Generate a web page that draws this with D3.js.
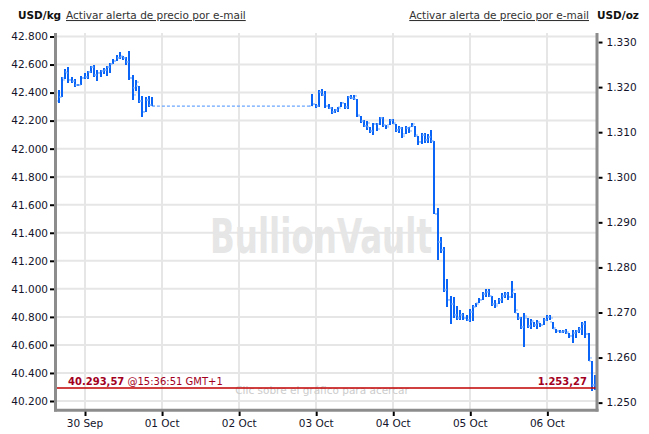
<!DOCTYPE html>
<html><head><meta charset="utf-8">
<script src="https://cdn.jsdelivr.net/npm/d3@7/dist/d3.min.js"></script>
<style>
body{margin:0;background:#fff;}
svg text{font-family:"DejaVu Sans",sans-serif;}
</style>
</head><body>
<svg id="chart" width="649" height="434"></svg>
<script>
// Hourly OHLC bars, hour offsets from 30 Sep 2016 00:00 (GMT+1); price in USD/kg
const hourOffsets = [
 -8,-7,-6,-5,-4,-3,-2,-1,0,1,2,3,4,5,6,7,8,9,10,11,12,13,14,15,16,17,18,19,20,21,
 71,72,73,74,75,76,77,78,79,80,81,82,83,84,85,86,87,88,89,90,91,92,93,94,95,96,97,98,99,100,
 101,102,103,104,105,106,107,108,109,110,111,112,113,114,115,116,117,118,119,120,
 121,122,123,124,125,126,127,128,129,130,131,132,133,134,135,136,137,138,139,140,
 141,142,143,144,145,146,147,148,149,150,151,152,153,154,155,156,157,158,159
];
const opens = [
 42340,42368,42504,42547,42490,42482,42454,42454,42504,42511,42547,42582,42525,42540,42554,42561,42582,42604,42625,42647,42654,42647,42618,42504,42433,42447,42340,42262,42347,42311,
 42304,42318,42304,42404,42383,42304,42290,42262,42276,42297,42326,42297,42368,42361,42354,42233,42197,42162,42155,42126,42176,42176,42219,42169,42169,42204,42176,42133,42147,42105,
 42147,42155,42162,42090,42048,42097,42062,42083,42055,41534,41334,41277,40992,40921,40892,40814,40792,40814,40792,40778,
 40835,40871,40899,40921,40963,40978,40949,40892,40892,40921,40949,40963,40942,40970,40828,40792,40728,40792,40735,40764,
 40742,40757,40742,40778,40799,40764,40714,40699,40692,40699,40685,40664,40685,40699,40714,40749,40678,40485,40314
];
const highs = [
 42418,42511,42568,42582,42511,42497,42461,42518,42540,42554,42589,42597,42561,42561,42575,42589,42611,42640,42668,42689,42661,42654,42697,42525,42490,42447,42376,42368,42376,42368,
 42390,42318,42418,42426,42411,42318,42297,42283,42297,42333,42326,42376,42383,42383,42354,42233,42204,42197,42155,42183,42183,42226,42226,42169,42212,42212,42176,42162,42155,42162,
 42155,42183,42162,42090,42112,42112,42105,42133,42055,41577,41370,41299,41070,40949,40942,40878,40849,40828,40814,40856,
 40885,40899,40935,40978,40999,40999,40949,40921,40935,40970,40978,40978,41056,40970,40828,40799,40828,40792,40785,40764,
 40778,40757,40792,40814,40814,40764,40714,40707,40707,40714,40685,40707,40707,40728,40764,40771,40685,40485,40385
];
const lows = [
 42325,42368,42497,42468,42468,42440,42447,42454,42497,42497,42540,42511,42482,42511,42532,42518,42540,42604,42625,42640,42632,42597,42490,42347,42411,42325,42226,42262,42297,42304,
 42304,42290,42297,42376,42290,42283,42247,42254,42262,42297,42283,42283,42354,42347,42226,42183,42155,42133,42112,42097,42126,42169,42155,42140,42169,42176,42119,42112,42076,42105,
 42112,42155,42083,42026,42033,42040,42040,42040,41534,41206,41256,40978,40871,40749,40792,40778,40778,40778,40771,40764,
 40771,40871,40899,40921,40942,40942,40878,40863,40892,40899,40935,40921,40935,40828,40778,40714,40585,40721,40714,40728,
 40714,40728,40742,40771,40778,40714,40685,40685,40685,40678,40650,40614,40650,40685,40671,40650,40485,40271,40279
];
const closes = [
 42368,42490,42540,42490,42482,42454,42454,42504,42511,42547,42582,42525,42540,42554,42561,42582,42604,42625,42647,42661,42647,42618,42504,42383,42475,42340,42262,42347,42311,42304,
 42318,42304,42404,42383,42304,42290,42262,42276,42290,42326,42297,42368,42361,42376,42240,42197,42162,42183,42126,42176,42140,42219,42169,42155,42204,42183,42133,42147,42090,42147,
 42126,42176,42097,42048,42097,42062,42083,42055,41534,41334,41277,40992,40921,40892,40814,40792,40814,40792,40778,40835,
 40871,40892,40921,40963,40978,40949,40892,40878,40921,40949,40963,40942,40992,40849,40792,40728,40806,40735,40771,40742,
 40764,40742,40778,40799,40792,40721,40699,40692,40699,40692,40664,40685,40699,40714,40749,40678,40507,40314,40294
];
const leftTicks = [40200,40400,40600,40800,41000,41200,41400,41600,41800,42000,42200,42400,42600,42800];
const rightTicks = [1250,1260,1270,1280,1290,1300,1310,1320,1330];
const dayTicks = ["2016-09-30","2016-10-01","2016-10-02","2016-10-03","2016-10-04","2016-10-05","2016-10-06"];
const currentPrice = 40293.57;
const currentTime = "15:36:51 GMT+1";
const ozPerKg = 32.1507466;

const svg = d3.select("#chart");
const loc = d3.formatLocale({decimal:",", thousands:".", grouping:[3], currency:["",""]});
const fInt = loc.format(",.0f"), fPrice = loc.format(",.2f");
const fDay = d3.utcFormat("%d %b");

const base = Date.UTC(2016,8,30,0,0,0);
const tStart = new Date(Date.UTC(2016,8,29,15,26,0));
const tEnd = new Date(Date.UTC(2016,9,6,15,36,51));
const L = 57, R = 597, T = 33, B = 410;

const x = d3.scaleUtc().domain([tStart,tEnd]).range([L,R]);
const y = d3.scaleLinear().domain([40200,42800]).range([401,36.5]);
const yR = d3.scaleLinear().domain([40200/ozPerKg,42800/ozPerKg]).range([401,36.5]);

const bars = hourOffsets.map((h,i)=>({t:new Date(base+h*3600e3),o:opens[i],h:highs[i],l:lows[i],c:closes[i]}));
const days = dayTicks.map(d=>new Date(d+"T00:00:00Z"));

// grid
const grid = svg.append("g");
grid.selectAll(".gv").data(days).join("line")
  .attr("x1",d=>Math.round(x(d))).attr("x2",d=>Math.round(x(d)))
  .attr("y1",T).attr("y2",B-1).attr("stroke","#e6e6e6").attr("stroke-width",2);
grid.selectAll(".gh").data(leftTicks).join("line")
  .attr("x1",L).attr("x2",R-1).attr("y1",d=>y(d)).attr("y2",d=>y(d))
  .attr("stroke","#e6e6e6").attr("stroke-width",2);

// watermark
svg.append("text").attr("x",210).attr("y",253).text("BullionVault")
  .attr("font-size",48).attr("font-weight","bold")
  .style("font-family","'DejaVu Sans Condensed','DejaVu Sans',sans-serif")
  .attr("textLength",222).attr("lengthAdjust","spacingAndGlyphs")
  .attr("fill","#e6e6e6");
svg.append("text").attr("x",322).attr("y",394).attr("text-anchor","middle")
  .attr("font-size",10.5).attr("fill","#cccccc").text("Clic sobre el gráfico para acercar");

// weekend gap line
const fri = bars[29], mon = bars[30];
svg.append("line").attr("x1",x(fri.t)).attr("x2",x(mon.t))
  .attr("y1",y(fri.c)).attr("y2",y(fri.c))
  .attr("stroke","#6aa6ff").attr("stroke-width",1.2).attr("stroke-dasharray","3,2");

// OHLC bars
const g = svg.append("g");
g.selectAll(".hl").data(bars).join("line")
  .attr("x1",d=>Math.round(x(d.t))).attr("x2",d=>Math.round(x(d.t)))
  .attr("y1",d=>y(d.h)).attr("y2",d=>y(d.l))
  .attr("stroke","#0a64f5").attr("stroke-width",2);
g.selectAll(".op").data(bars).join("line")
  .attr("x1",d=>Math.round(x(d.t))-3).attr("x2",d=>Math.round(x(d.t))-1)
  .attr("y1",d=>y(d.o)).attr("y2",d=>y(d.o))
  .attr("stroke","#7fb2ff").attr("stroke-width",1);
g.selectAll(".cl").data(bars).join("line")
  .attr("x1",d=>Math.round(x(d.t))+1).attr("x2",d=>Math.round(x(d.t))+3)
  .attr("y1",d=>y(d.c)).attr("y2",d=>y(d.c))
  .attr("stroke","#7fb2ff").attr("stroke-width",1);

// current price line & labels
svg.append("line").attr("x1",L).attr("x2",R-1)
  .attr("y1",y(currentPrice)).attr("y2",y(currentPrice))
  .attr("stroke","#c00000").attr("stroke-width",1.5);
const pl = svg.append("text").attr("x",68).attr("y",385).attr("font-size",10).attr("fill","#a3001e");
pl.append("tspan").attr("font-weight","bold").text(fPrice(currentPrice));
pl.append("tspan").text(" @"+currentTime);
svg.append("text").attr("x",587).attr("y",385).attr("text-anchor","end")
  .attr("font-size",10).attr("font-weight","bold").attr("fill","#a3001e")
  .text(fPrice(currentPrice/ozPerKg));

// axes
function styleAxis(sel){
  sel.select(".domain").remove();
  sel.selectAll(".tick line").attr("stroke","#000").attr("stroke-width",2);
  sel.selectAll(".tick text").attr("fill","#14142b").attr("font-size",10.5)
     .style("font-family","'DejaVu Sans',sans-serif");
}
const ax = svg.append("g").attr("transform","translate(0,411)")
  .call(d3.axisBottom(x).tickValues(days).tickFormat(fDay).tickSize(5).tickPadding(4).tickSizeOuter(0));
styleAxis(ax);
ax.selectAll(".tick line").attr("transform","translate(0.5,0)");
const ay = svg.append("g").attr("transform","translate(55,0)")
  .call(d3.axisLeft(y).tickValues(leftTicks).tickFormat(fInt).tickSize(5).tickPadding(2).tickSizeOuter(0));
styleAxis(ay);
const ayr = svg.append("g").attr("transform","translate(598.5,0)")
  .call(d3.axisRight(yR).tickValues(rightTicks).tickFormat(fInt).tickSize(4).tickPadding(4).tickSizeOuter(0));
styleAxis(ayr);

// axis lines
svg.append("line").attr("x1",55.5).attr("x2",55.5).attr("y1",T).attr("y2",411.5).attr("stroke","#8c8c8c").attr("stroke-width",3);
svg.append("line").attr("x1",597).attr("x2",597).attr("y1",T).attr("y2",411.5).attr("stroke","#8c8c8c").attr("stroke-width",3);
svg.append("line").attr("x1",54).attr("x2",598.5).attr("y1",410.3).attr("y2",410.3).attr("stroke","#8c8c8c").attr("stroke-width",3);

// header
svg.append("text").attr("x",18).attr("y",19).attr("font-size",10.5).attr("font-weight","bold").attr("fill","#111").text("USD/kg");
svg.append("text").attr("x",66).attr("y",19).attr("font-size",10.5).attr("fill","#333")
  .attr("text-decoration","underline").text("Activar alerta de precio por e-mail");
svg.append("text").attr("x",589).attr("y",19).attr("font-size",10.5).attr("fill","#333").attr("text-anchor","end")
  .attr("text-decoration","underline").text("Activar alerta de precio por e-mail");
svg.append("text").attr("x",597).attr("y",19).attr("font-size",10.5).attr("font-weight","bold").attr("fill","#111").text("USD/oz");
</script>
</body></html>
